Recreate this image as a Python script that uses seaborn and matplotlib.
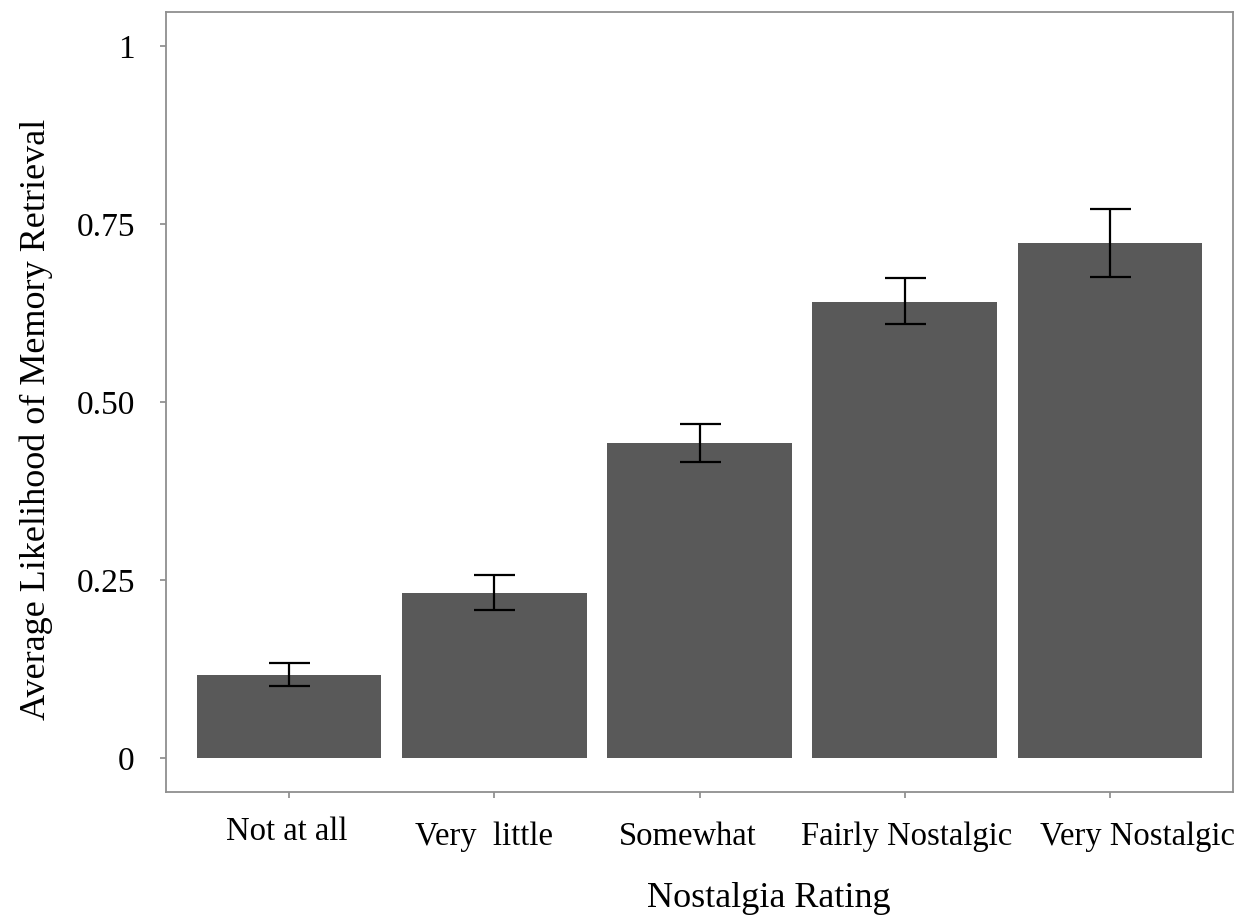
import matplotlib
matplotlib.use("Agg")
import matplotlib.pyplot as plt
import matplotlib.transforms as mtransforms
import seaborn as sns
import pandas as pd
import numpy as np

categories = ["Not at all", "Very  little", "Somewhat", "Fairly Nostalgic", "Very Nostalgic"]
means = [0.117, 0.232, 0.442, 0.640, 0.723]
err_low = [0.101, 0.208, 0.416, 0.609, 0.675]
err_high = [0.133, 0.257, 0.469, 0.674, 0.771]
yticks = [0, 0.25, 0.50, 0.75, 1]
ytick_labels = ["0", "0.25", "0.50", "0.75", "1"]

sns.set_theme(style="white")
plt.rcParams["font.family"] = ["Liberation Serif", "DejaVu Serif"]

df = pd.DataFrame({"rating": categories, "mean": means})

fig = plt.figure(figsize=(12.5, 9.15), dpi=100)
ax = fig.add_axes([0.1328, 0.1344, 0.9864 - 0.1328, 0.9869 - 0.1344])

sns.barplot(data=df, x="rating", y="mean", order=categories, color="#595959",
            saturation=1, width=0.9, errorbar=None, ax=ax, edgecolor="none")

x = np.arange(len(categories))
m = np.array(means)
yerr = np.vstack([m - np.array(err_low), np.array(err_high) - m])
ax.errorbar(x, m, yerr=yerr, fmt="none", ecolor="black", elinewidth=1.6,
            capsize=20.5 * 72 / 100, capthick=1.6)

ax.set_xlim(-0.6, 4.6)
ax.set_ylim(-0.048, 1.048)
ax.set_yticks(yticks)
ax.set_yticklabels(ytick_labels)

for s in ax.spines.values():
    s.set_visible(True)
    s.set_color("#8f8f8f")
    s.set_linewidth(1.3)

ax.tick_params(axis="both", which="both", direction="out", length=4.5, width=1.1,
               color="#7f7f7f", labelcolor="black", left=True, bottom=True)
ax.tick_params(axis="y", pad=18, labelsize=24)
ax.tick_params(axis="x", pad=17, labelsize=23.5)

# small per-label nudges (pixels) to mirror the reference placement
nudges = [(-2, 5), (-10, 0), (-12, 0), (2, 0), (28, 0)]
for lab, (dx, dy) in zip(ax.get_xticklabels(), nudges):
    off = mtransforms.ScaledTranslation(dx / 100, dy / 100, fig.dpi_scale_trans)
    lab.set_transform(lab.get_transform() + off)

ax.set_xlabel("Nostalgia Rating", fontsize=26, labelpad=21, color="black", x=0.565)
ax.set_ylabel("Average Likelihood of Memory Retrieval", fontsize=26, labelpad=17,
              color="black", y=0.478)
ax.grid(False)

fig.savefig("out.png", dpi=100, facecolor="white")
